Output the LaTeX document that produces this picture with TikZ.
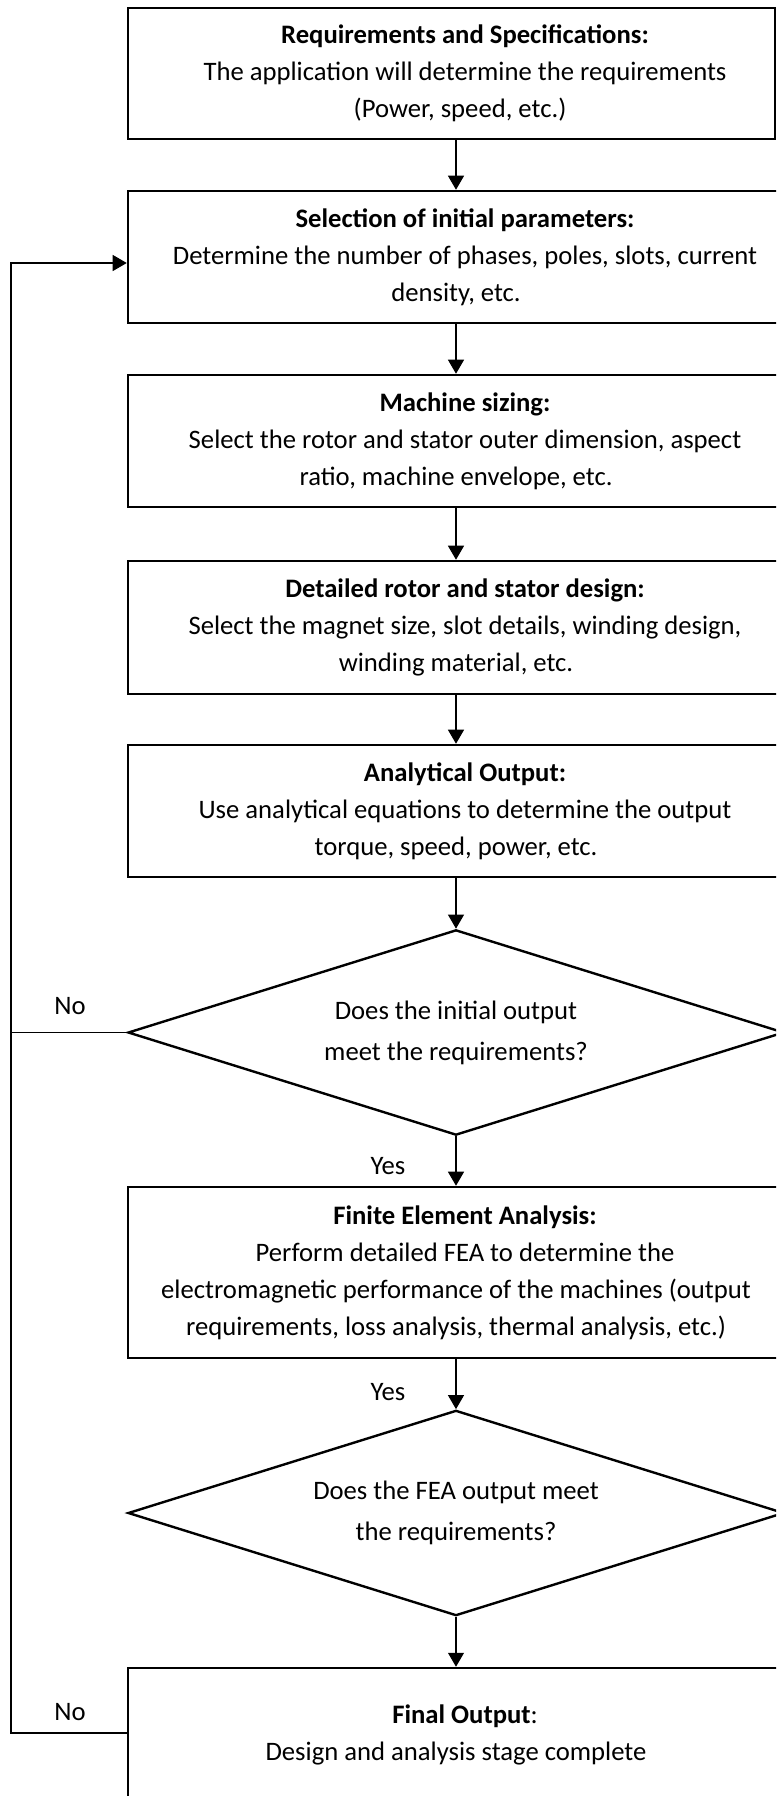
\documentclass[tikz,border=0pt]{standalone}
\usepackage{fontspec}
\setmainfont{Carlito}
\usetikzlibrary{arrows.meta,shapes.geometric}
\newcommand\shft{\hspace*{13.5pt}}
\begin{document}
\begin{tikzpicture}[x=0.75pt,y=-0.75pt,
  stagebox/.style={draw, line width=1.9pt, align=center, inner sep=0pt,
    font=\fontsize{20}{27.75}\selectfont, minimum width=492pt},
  decision/.style={draw, diamond, aspect=3.2, line width=1.8pt, align=center, inner sep=0pt,
    font=\fontsize{20}{30.75}\selectfont, minimum width=492pt, minimum height=154pt},
  lbl/.style={font=\fontsize{20}{24}\selectfont, inner sep=0pt},
  conn/.style={line width=0.8pt},
  arr/.style={line width=0.8pt, -{Triangle[length=10.5pt,width=12pt]}}]
\clip (0,0) rectangle (776,1796);
\fill[white] (0,0) rectangle (776,1796);

\node[stagebox, minimum width=485.25pt, minimum height=98.25pt] (b1) at (451.5,73.5)
  {\hspace*{20.25pt}\textbf{Requirements and Specifications:}\\
   \hspace*{20.25pt}The application will determine the requirements\\
   \hspace*{12.75pt}(Power, speed, etc.)};
\node[stagebox, minimum height=99pt] (b2) at (456,257)
  {\shft\textbf{Selection of initial parameters:}\\
   \shft Determine the number of phases, poles, slots, current\\
   density, etc.};
\node[stagebox, minimum height=99pt] (b3) at (456,441)
  {\shft\textbf{Machine sizing:}\\
   \shft Select the rotor and stator outer dimension, aspect\\
   ratio, machine envelope, etc.};
\node[stagebox, minimum height=99.75pt] (b4) at (456,627.5)
  {\shft\textbf{Detailed rotor and stator design:}\\
   \shft Select the magnet size, slot details, winding design,\\
   winding material, etc.};
\node[stagebox, minimum height=99pt] (b5) at (456,811)
  {\shft\textbf{Analytical Output:}\\
   \shft Use analytical equations to determine the output\\
   torque, speed, power, etc.};
\node[decision] (d1) at (456,1032.5)
  {Does the initial output\\meet the requirements?};
\node[stagebox, minimum height=128.25pt] (b6) at (456,1272.5)
  {\shft\textbf{Finite Element Analysis:}\\
   \shft Perform detailed FEA to determine the\\
   electromagnetic performance of the machines (output\\
   requirements, loss analysis, thermal analysis, etc.)};
\node[decision] (d2) at (456,1513)
  {Does the FEA output meet\\the requirements?};
\node[stagebox, minimum height=100.5pt] (b7) at (456,1735)
  {\shft\textbf{Final Output}:\\
   Design and analysis stage complete};

\node[lbl] (no1) at (70,1006) {No};
\node[lbl] (no2) at (70,1712) {No};
\node[lbl] (yes1) at (388,1166) {Yes};
\node[lbl] (yes2) at (388,1392) {Yes};

\coordinate (fbtop) at (11,263);
\coordinate (fbmid) at (11,1032.5);
\coordinate (fbbot) at (11,1733);

\draw[arr] (b1.south -| b2.north) -- (b2.north);
\draw[arr] (b2.south) -- (b3.north);
\draw[arr] (b3.south) -- (b4.north);
\draw[arr] (b4.south) -- (b5.north);
\draw[arr] (b5.south) -- (d1.north);
\draw[arr] (d1.south) -- (b6.north);
\draw[arr] (b6.south) -- (d2.north);
\draw[arr] (d2.south) -- (b7.north);

\draw[conn] (d1.west) -- (fbmid);
\draw[arr] (fbmid) -- (fbtop) -- (fbtop -| b2.west);
\draw[conn] (fbbot -| b7.west) -- (fbbot) -- (fbmid);
\end{tikzpicture}
\end{document}
